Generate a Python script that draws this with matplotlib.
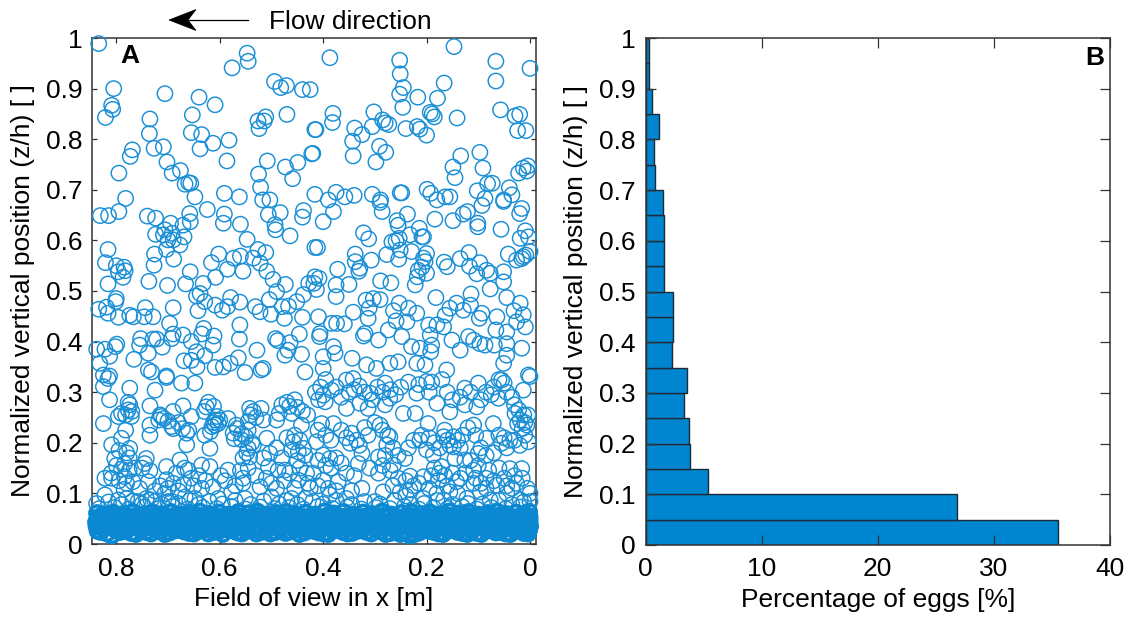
import matplotlib
matplotlib.use("Agg")
import matplotlib.pyplot as plt
from matplotlib.lines import Line2D
from matplotlib.patches import Polygon
import numpy as np

plt.rcParams['font.family'] = ['Liberation Sans', 'DejaVu Sans']

# Egg positions: (x in m, z/h)
top_points = [
    (.834,.989),(.547,.970),(.545,.954),(.576,.941),(.494,.914),(.482,.902),(.471,.906),(.440,.898),
    (.805,.900),(.706,.890),(.640,.883),(.609,.868),(.809,.867),(.807,.859),(.821,.843),(.653,.848),
    (.735,.840),(.470,.849),(.511,.844),(.526,.836),(.524,.821),(.514,.836),(.736,.811),(.655,.813),
    (.635,.809),(.582,.798),(.613,.792),(.709,.785),(.727,.782),(.638,.781),(.769,.779),(.773,.766),
    (.586,.757),(.702,.755),(.795,.733),(.676,.738),(.692,.733),(.508,.757),(.525,.731),(.473,.745),
    (.449,.754),(.459,.722),(.422,.771),(.416,.819),(.521,.705),(.667,.711),(.660,.714),(.656,.713),
    (.648,.686),(.782,.683),(.591,.693),(.562,.686),(.517,.680),(.503,.680),(.416,.691),
    (.387,.961),(.425,.898),(.252,.956),(.251,.929),(.245,.902),(.252,.889),(.217,.883),(.246,.863),
    (.166,.911),(.179,.881),(.147,.983),(.066,.954),(.066,.915),(.000,.940),(.057,.858),(.029,.846),
    (.020,.849),(.024,.817),(.008,.817),(.141,.842),(.193,.853),(.189,.850),(.185,.844),(.302,.854),
    (.285,.838),(.280,.832),(.273,.829),(.305,.825),(.240,.821),(.218,.825),(.213,.820),(.200,.808),
    (.381,.851),(.382,.833),(.414,.819),(.339,.822),(.325,.809),(.343,.796),(.342,.767),(.291,.786),
    (.279,.774),(.298,.755),(.420,.772),(.134,.767),(.097,.774),(.149,.745),(.091,.743),(.145,.724),
    (.004,.747),(.013,.743),(.006,.737),(.022,.733),(.082,.712),(.073,.713),(.102,.698),(.040,.704),
    (.035,.690),(.087,.683),(.199,.701),(.192,.693),(.164,.686),(.155,.686),(.180,.680),(.251,.694),
    (.248,.694),(.375,.695),(.358,.686),(.340,.689),(.305,.691),(.289,.680),(.390,.680),(.051,.680),
]
mid_points = [
    (.795,.657),(.815,.649),(.831,.649),(.740,.648),(.724,.644),(.624,.661),(.591,.652),(.593,.634),
    (.560,.632),(.547,.602),(.506,.651),(.483,.655),(.438,.659),(.440,.646),(.493,.631),(.492,.621),
    (.464,.609),(.416,.586),(.658,.653),(.657,.637),(.671,.630),(.695,.634),(.706,.621),(.724,.612),
    (.709,.611),(.692,.614),(.669,.607),(.703,.582),(.677,.591),(.690,.601),(.700,.601),(.816,.582),
    (.821,.556),(.726,.573),(.727,.551),(.689,.563),(.800,.550),(.785,.547),(.796,.538),(.783,.540),
    (.787,.527),(.816,.514),(.737,.519),(.701,.511),(.666,.514),(.657,.538),(.632,.515),(.616,.556),
    (.602,.573),(.608,.527),(.585,.543),(.573,.565),(.560,.569),(.555,.539),(.535,.565),(.526,.582),
    (.511,.576),(.522,.555),(.509,.539),(.497,.523),(.473,.513),(.490,.499),(.504,.483),(.428,.515),
    (.416,.528),(.438,.493),(.451,.479),(.467,.470),(.479,.469),(.501,.454),(.522,.459),(.531,.469),
    (.475,.446),(.440,.448),(.638,.495),(.645,.490),(.629,.479),(.609,.472),(.642,.461),(.595,.462),
    (.579,.487),(.585,.469),(.561,.478),(.800,.485),(.801,.479),(.834,.464),(.819,.468),(.816,.456),
    (.796,.448),(.774,.452),(.767,.449),(.744,.467),(.746,.449),(.729,.449),(.690,.467),(.697,.436),
    (.631,.426),(.561,.433),(.562,.405),(.528,.383),(.492,.406),(.488,.402),(.446,.415),(.464,.398),
    (.468,.383),(.474,.373),(.442,.375),(.690,.415),(.671,.413),(.753,.406),(.729,.405),(.722,.405),
    (.755,.393),(.738,.377),(.711,.389),(.693,.406),(.655,.400),(.635,.415),(.611,.411),(.613,.393),
    (.645,.380),(.629,.372),(.799,.395),(.802,.390),(.838,.385),(.822,.385),(.813,.371),(.832,.357),
    (.766,.365),(.669,.362),(.655,.363),(.644,.350),(.564,.368),(.593,.350),(.580,.357),(.551,.339),
    (.609,.349),(.516,.347),(.520,.344),(.435,.340),(.738,.344),(.732,.340),(.703,.332),(.825,.334),
    (.813,.332),
    (.400,.637),(.380,.657),(.322,.615),(.312,.603),(.411,.586),(.290,.675),(.286,.657),(.237,.652),
    (.257,.639),(.255,.630),(.184,.642),(.149,.639),(.129,.652),(.121,.657),(.093,.669),(.101,.634),
    (.101,.627),(.056,.622),(.020,.653),(.016,.663),(.051,.677),(.009,.619),(.019,.604),(.003,.607),
    (.214,.624),(.232,.611),(.209,.607),(.206,.607),(.267,.597),(.259,.599),(.253,.604),(.277,.572),
    (.251,.581),(.254,.563),(.229,.578),(.200,.574),(.206,.565),(.203,.558),(.209,.547),(.200,.535),
    (.216,.541),(.218,.528),(.222,.512),(.338,.573),(.338,.558),(.307,.561),(.329,.545),(.331,.539),
    (.372,.543),(.408,.525),(.375,.512),(.350,.513),(.418,.515),(.413,.503),(.375,.489),(.289,.520),
    (.269,.516),(.182,.487),(.166,.557),(.160,.548),(.135,.564),(.118,.576),(.117,.549),(.097,.556),
    (.103,.534),(.077,.535),(.084,.541),(.051,.538),(.051,.518),(.077,.504),(.042,.573),(.026,.561),
    (.016,.564),(.008,.571),(.000,.578),(.013,.568),(.114,.494),(.045,.487),(.019,.476),(.031,.461),
    (.013,.453),(.026,.439),(.009,.429),(.064,.449),(.066,.423),(.045,.419),(.045,.396),(.016,.387),
    (.045,.373),(.051,.357),(.303,.485),(.290,.483),(.317,.482),(.311,.466),(.342,.458),(.313,.446),
    (.409,.449),(.384,.436),(.374,.436),(.359,.435),(.319,.416),(.322,.411),(.293,.403),(.406,.416),
    (.407,.410),(.253,.476),(.264,.461),(.235,.466),(.219,.456),(.259,.441),(.238,.439),(.274,.423),
    (.248,.410),(.196,.433),(.180,.433),(.167,.429),(.193,.413),(.164,.452),(.155,.466),(.142,.476),
    (.129,.462),(.115,.472),(.098,.446),(.093,.456),(.135,.383),(.151,.403),(.119,.410),(.109,.403),
    (.097,.396),(.087,.393),(.069,.393),(.229,.390),(.213,.387),(.190,.393),(.192,.380),(.380,.390),
    (.377,.377),(.400,.370),(.344,.367),(.400,.347),(.316,.354),(.297,.347),(.271,.357),(.255,.360),
    (.219,.357),(.203,.354),(.161,.344),(.003,.334),
]
low_points = [
    (.825,.311),(.816,.327),(.813,.285),(.774,.308),(.777,.265),(.774,.275),(.796,.252),(.825,.238),
    (.771,.252),(.782,.225),(.735,.273),(.725,.304),(.674,.318),(.703,.329),(.648,.318),(.671,.273),
    (.655,.252),(.690,.262),(.713,.252),(.735,.235),(.735,.215),(.693,.232),(.664,.219),(.664,.196),
    (.626,.271),(.609,.245),(.609,.235),(.629,.215),(.619,.189),(.635,.156),(.619,.153),(.584,.248),
    (.568,.235),(.574,.219),(.558,.206),(.545,.189),(.542,.172),(.509,.209),(.516,.245),(.535,.262),
    (.542,.268),(.490,.245),(.461,.258),(.442,.235),(.461,.186),(.448,.182),(.438,.189),(.458,.202),
    (.503,.179),(.809,.196),(.790,.209),(.774,.189),(.803,.169),(.784,.159),(.742,.169),(.745,.159),
    (.703,.153),(.677,.166),(.661,.146),(.684,.140),(.822,.130),(.809,.130),(.784,.133),(.768,.123),
    (.738,.123),(.703,.127),(.822,.097),(.780,.090),(.742,.090),(.706,.100),(.667,.093),(.635,.110),
    (.613,.113),(.584,.146),(.555,.130),(.577,.103),(.522,.113),(.487,.146),(.474,.146),(.448,.126),
    (.429,.120),(.506,.153),(.796,.087),(.758,.084),(.725,.084),(.693,.084),(.648,.090),(.603,.090),
    (.551,.090),(.500,.093),(.461,.090),(.435,.090),
    (.355,.268),(.409,.285),(.396,.281),(.400,.294),(.384,.304),(.355,.324),(.342,.327),(.309,.298),
    (.329,.278),(.313,.268),(.271,.288),(.280,.275),(.245,.258),(.222,.258),(.219,.298),(.200,.321),
    (.280,.318),(.126,.308),(.100,.318),(.055,.324),(.013,.304),(.000,.331),(.061,.288),(.103,.271),
    (.126,.275),(.155,.261),(.180,.278),(.109,.235),(.071,.238),(.029,.258),(.019,.245),(.006,.235),
    (.084,.209),(.039,.205),(.055,.199),(.003,.202),(.403,.238),(.380,.238),(.413,.202),(.345,.219),
    (.348,.199),(.313,.215),(.290,.235),(.271,.212),(.277,.196),(.197,.238),(.213,.205),(.200,.186),
    (.167,.212),(.148,.212),(.148,.192),(.100,.179),(.126,.166),(.400,.176),(.387,.169),(.325,.179),
    (.332,.159),(.293,.172),(.293,.140),(.264,.156),(.242,.169),(.187,.176),(.171,.153),(.145,.169),
    (.109,.146),(.080,.146),(.039,.149),(.016,.149),(.419,.140),(.400,.126),(.371,.123),(.325,.110),
    (.232,.134),(.206,.133),(.177,.126),(.142,.123),(.109,.120),(.064,.116),(.026,.120),(.284,.103),
    (.251,.103),(.232,.107),(.155,.103),(.096,.103),(.045,.100),(.000,.084),(.387,.097),(.355,.090),
    (.300,.084),(.206,.090),(.167,.087),(.122,.090),(.077,.087),(.019,.087),
    # second pass over the crowded clusters
    (.777,.280),(.770,.262),(.782,.255),(.790,.258),(.715,.255),(.708,.248),(.700,.243),(.718,.245),
    (.680,.240),(.690,.228),(.672,.228),(.660,.225),(.622,.280),(.630,.262),(.612,.272),(.605,.252),
    (.612,.240),(.603,.238),(.615,.232),(.600,.245),(.618,.222),(.566,.228),(.558,.218),(.550,.212),
    (.572,.208),(.545,.225),(.538,.200),(.548,.180),(.555,.170),(.535,.195),(.540,.255),(.530,.250),
    (.520,.268),(.545,.242),(.480,.275),(.470,.280),(.465,.272),(.455,.285),(.450,.270),(.485,.258),
    (.440,.262),(.430,.255),(.795,.185),(.780,.180),(.775,.170),(.800,.155),(.790,.148),(.775,.145),
    (.765,.150),(.810,.140),(.795,.125),(.780,.120),(.785,.108),(.755,.110),(.735,.145),(.750,.150),
    (.725,.105),(.715,.115),(.700,.110),(.690,.120),(.680,.105),(.670,.118),(.655,.130),(.650,.115),
    (.668,.150),(.640,.135),(.628,.125),(.598,.135),(.590,.125),(.570,.115),(.560,.145),(.545,.150),
    (.555,.120),(.530,.135),(.510,.130),(.500,.120),(.490,.110),(.475,.125),(.465,.140),(.455,.110),
    (.445,.150),(.432,.140),(.425,.110),(.470,.210),(.455,.215),(.445,.205),(.435,.175),(.450,.165),
    (.490,.190),(.480,.170),(.515,.170),
    (.415,.300),(.405,.310),(.395,.325),(.375,.310),(.365,.290),(.350,.300),(.340,.305),(.330,.312),
    (.320,.300),(.305,.285),(.295,.310),(.285,.300),(.270,.305),(.260,.295),(.250,.310),(.235,.320),
    (.215,.315),(.195,.300),(.190,.320),(.170,.325),(.160,.300),(.150,.285),(.135,.290),(.115,.300),
    (.095,.285),(.085,.300),(.075,.295),(.070,.310),(.060,.325),(.050,.318),(.045,.300),(.035,.290),
    (.030,.275),(.022,.265),(.012,.255),(.010,.240),(.024,.238),(.015,.228),(.004,.255),
    (.410,.225),(.395,.215),(.385,.205),(.365,.225),(.355,.210),(.335,.205),(.330,.195),(.320,.230),
    (.300,.240),(.285,.225),(.275,.215),(.265,.190),(.255,.175),(.280,.175),(.235,.190),(.225,.205),
    (.210,.215),(.195,.210),(.185,.200),(.175,.190),(.165,.225),(.160,.205),(.155,.195),(.140,.205),
    (.135,.190),(.130,.215),(.120,.230),(.105,.215),(.095,.190),(.085,.175),(.070,.180),(.060,.215),
    (.050,.210),(.045,.190),(.030,.205),(.020,.195),(.010,.215),
    (.410,.165),(.395,.155),(.385,.150),(.375,.170),(.365,.160),(.355,.140),(.340,.135),(.310,.150),
    (.285,.155),(.270,.145),(.255,.130),(.240,.125),(.225,.115),(.215,.120),(.195,.110),(.190,.135),
    (.185,.150),(.175,.140),(.165,.135),(.160,.115),(.150,.140),(.135,.130),(.125,.140),(.115,.165),
    (.100,.155),(.105,.130),(.095,.120),(.085,.130),(.070,.125),(.060,.150),(.050,.130),(.045,.115),
    (.030,.135),(.015,.130),(.005,.110),(.000,.100),(.410,.115),(.390,.110),(.375,.105),(.345,.105),
    (.265,.115),(.240,.095),(.180,.100),(.140,.100),(.085,.110),(.035,.110),
]
# the dense band near the bed, individual rings can't be read so these are estimates
band_points = [
    (.836,.026),(.818,.021),(.809,.017),(.793,.024),(.771,.022),(.752,.027),(.733,.021),(.716,.025),
    (.697,.023),(.678,.028),(.659,.022),(.641,.026),(.622,.021),(.603,.025),(.585,.029),(.566,.023),
    (.548,.026),(.529,.021),(.511,.027),(.492,.024),(.473,.022),(.455,.028),(.436,.023),(.418,.026),
    (.399,.021),(.381,.027),(.362,.024),(.344,.022),(.325,.027),(.307,.021),(.288,.025),(.270,.022),
    (.251,.020),(.232,.017),(.214,.023),(.195,.026),(.177,.021),(.158,.027),(.140,.024),(.121,.020),
    (.103,.022),(.084,.027),(.066,.023),(.047,.021),(.029,.026),(.012,.022),(.002,.027),
    (.838,.035),(.826,.031),(.802,.034),(.785,.030),(.763,.036),(.744,.032),(.724,.034),(.707,.031),
    (.688,.036),(.669,.033),(.650,.030),(.632,.036),(.613,.032),(.594,.035),(.575,.031),(.557,.036),
    (.538,.033),(.520,.030),(.501,.035),(.483,.032),(.464,.036),(.445,.030),(.427,.034),(.408,.032),
    (.390,.036),(.371,.030),(.353,.034),(.334,.032),(.316,.036),(.297,.031),(.279,.034),(.260,.030),
    (.241,.035),(.223,.032),(.204,.036),(.186,.030),(.167,.034),(.149,.031),(.130,.036),(.112,.032),
    (.093,.035),(.075,.030),(.056,.034),(.038,.032),(.020,.036),(.006,.031),
    (.839,.043),(.820,.040),(.810,.044),(.790,.041),(.777,.045),(.757,.040),(.738,.044),(.719,.041),
    (.701,.045),(.682,.040),(.664,.043),(.645,.046),(.626,.041),(.608,.044),(.589,.040),(.571,.045),
    (.552,.042),(.534,.046),(.515,.040),(.497,.043),(.478,.045),(.460,.041),(.441,.044),(.423,.040),
    (.404,.046),(.386,.042),(.367,.045),(.349,.040),(.330,.044),(.312,.041),(.293,.046),(.274,.040),
    (.256,.043),(.237,.045),(.219,.041),(.200,.044),(.182,.040),(.163,.046),(.145,.042),(.126,.045),
    (.108,.040),(.089,.043),(.071,.046),(.052,.041),(.034,.044),(.015,.041),(.001,.045),
    (.836,.052),(.815,.049),(.798,.053),(.781,.050),(.760,.054),(.742,.049),(.727,.053),(.708,.050),
    (.690,.054),(.672,.049),(.655,.052),(.636,.055),(.617,.050),(.598,.053),(.580,.049),(.561,.054),
    (.543,.051),(.524,.055),(.506,.049),(.487,.052),(.468,.054),(.450,.050),(.431,.053),(.413,.049),
    (.394,.055),(.376,.051),(.358,.054),(.339,.049),(.320,.053),(.302,.050),(.283,.055),(.265,.049),
    (.246,.052),(.228,.054),(.209,.050),(.191,.053),(.172,.049),(.154,.055),(.135,.051),(.117,.054),
    (.098,.049),(.080,.052),(.061,.055),(.043,.050),(.024,.053),(.008,.050),
    (.837,.061),(.822,.058),(.806,.062),(.787,.059),(.768,.063),(.749,.058),(.730,.062),(.713,.059),
    (.694,.063),(.675,.058),(.657,.061),(.639,.064),(.620,.059),(.601,.062),(.583,.058),(.564,.063),
    (.546,.060),(.527,.064),(.509,.058),(.490,.061),(.471,.063),(.453,.059),(.434,.062),(.416,.058),
    (.397,.064),(.379,.060),(.360,.063),(.342,.058),(.323,.062),(.305,.059),(.286,.064),(.268,.058),
    (.249,.061),(.230,.063),(.212,.059),(.193,.062),(.175,.058),(.156,.064),(.138,.060),(.119,.063),
    (.101,.058),(.082,.061),(.064,.064),(.045,.059),(.027,.062),(.010,.059),(.002,.064),
    (.830,.024),(.801,.028),(.781,.026),(.762,.020),(.742,.024),(.725,.029),(.706,.020),(.688,.027),
    (.669,.025),(.650,.021),(.631,.029),(.612,.024),(.594,.020),(.575,.027),(.557,.021),(.538,.028),
    (.520,.024),(.502,.021),(.483,.028),(.464,.025),(.446,.020),(.427,.028),(.409,.023),(.390,.020),
    (.372,.028),(.353,.021),(.335,.026),(.316,.024),(.298,.029),(.279,.020),(.260,.026),(.242,.022),
    (.223,.020),(.205,.028),(.186,.024),(.168,.020),(.149,.028),(.131,.022),(.112,.026),(.094,.020),
    (.075,.028),(.057,.024),(.038,.020),(.020,.028),(.004,.021),
    (.832,.038),(.812,.036),(.794,.038),(.773,.033),(.754,.038),(.735,.036),(.715,.038),(.697,.033),
    (.678,.038),(.659,.035),(.641,.033),(.622,.038),(.603,.036),(.585,.034),(.566,.038),(.547,.033),
    (.529,.037),(.510,.033),(.492,.038),(.473,.034),(.455,.038),(.436,.033),(.417,.037),(.399,.034),
    (.380,.038),(.362,.033),(.343,.037),(.325,.034),(.306,.038),(.288,.033),(.269,.037),(.251,.033),
    (.232,.038),(.214,.034),(.195,.038),(.177,.033),(.158,.037),(.140,.034),(.121,.038),(.103,.033),
    (.084,.037),(.066,.034),(.047,.038),(.029,.033),(.011,.038),(.000,.035),
    (.829,.047),(.804,.046),(.784,.047),(.767,.043),(.748,.047),(.729,.044),(.710,.047),(.692,.043),
    (.673,.047),(.654,.044),(.636,.047),(.617,.043),(.598,.047),(.580,.043),(.561,.047),(.543,.044),
    (.524,.048),(.506,.044),(.487,.047),(.469,.043),(.450,.047),(.432,.043),(.413,.047),(.395,.044),
    (.376,.048),(.358,.043),(.339,.047),(.321,.044),(.302,.047),(.283,.043),(.265,.047),(.246,.044),
    (.228,.048),(.209,.043),(.191,.047),(.172,.044),(.154,.048),(.135,.043),(.117,.047),(.098,.044),
    (.080,.047),(.061,.043),(.043,.047),(.024,.043),(.007,.047),
    (.828,.056),(.808,.056),(.789,.056),(.770,.052),(.751,.056),(.735,.052),(.717,.056),(.699,.052),
    (.680,.056),(.663,.054),(.645,.057),(.627,.052),(.608,.056),(.589,.052),(.570,.056),(.552,.053),
    (.533,.057),(.515,.052),(.496,.056),(.478,.052),(.459,.056),(.441,.052),(.422,.056),(.404,.052),
    (.385,.057),(.367,.053),(.348,.056),(.330,.052),(.311,.056),(.293,.052),(.274,.056),(.256,.053),
    (.237,.057),(.219,.052),(.200,.056),(.182,.053),(.163,.057),(.145,.052),(.126,.056),(.108,.053),
    (.089,.056),(.071,.052),(.052,.056),(.034,.052),(.016,.056),(.001,.053),
]
# top fringe of the band, rings still partly readable
fringe_points = [
    (.833,.070),(.803,.072),(.776,.069),(.746,.073),(.718,.070),(.691,.074),(.662,.069),(.633,.072),
    (.606,.070),(.578,.074),(.550,.069),(.522,.073),(.494,.070),(.466,.072),(.438,.069),(.410,.074),
    (.382,.070),(.354,.073),(.326,.069),(.298,.072),(.271,.070),(.243,.074),(.215,.069),(.187,.072),
    (.159,.070),(.131,.074),(.103,.069),(.075,.072),(.047,.070),(.019,.073),
    (.838,.080),(.815,.083),(.790,.078),(.768,.085),(.750,.079),(.733,.087),(.712,.078),(.700,.084),
    (.680,.080),(.658,.086),(.640,.078),(.620,.084),(.595,.079),(.570,.086),(.540,.078),(.515,.085),
    (.485,.079),(.470,.086),(.450,.078),(.420,.084),(.400,.079),(.375,.086),(.345,.078),(.320,.084),
    (.290,.079),(.262,.086),(.230,.078),(.205,.080),(.180,.086),(.150,.078),(.120,.080),(.092,.079),
    (.060,.086),(.035,.078),(.012,.083),
]
points = np.array(top_points + mid_points + low_points + fringe_points)
band = np.array(band_points)

# Panel B histogram, bins from the bed upward
bin_edges = [i * 0.05 for i in range(20)]
percent_eggs = [35.5, 26.85, 5.4, 3.79, 3.76, 3.3, 3.54, 2.27, 2.38, 2.38,
                1.58, 1.58, 1.58, 1.55, 0.83, 0.75, 1.2, 0.6, 0.34, 0.26]

y_ticks = [0, 0.1, 0.2, 0.3, 0.4, 0.5, 0.6, 0.7, 0.8, 0.9, 1]
y_ticklabels = ['0', '0.1', '0.2', '0.3', '0.4', '0.5', '0.6', '0.7', '0.8', '0.9', '1']

W, H = 1125, 617
fig = plt.figure(figsize=(W / 100, H / 100), dpi=100)
ax_a = fig.add_axes([92 / W, 1 - 544 / H, 444 / W, 506 / H])
ax_b = fig.add_axes([645.5 / W, 1 - 545 / H, 464.5 / W, 507 / H])

spine_col = '#333333'
ring_col = '#1a8fd6'
fs = 19

ax_a.scatter(points[:, 0], points[:, 1], s=122, facecolors='none', edgecolors=ring_col,
             linewidths=1.05, clip_on=False, zorder=3)
# heavier stroke so the overlapping rings merge into a solid band as in the original
ax_a.scatter(band[:, 0], band[:, 1], s=108, facecolors='none', edgecolors='#0a88d2',
             linewidths=2.6, clip_on=False, zorder=3)
ax_a.set_xlim(0.847, -0.0116)
ax_a.set_ylim(0, 1)
ax_a.set_xticks([0.8, 0.6, 0.4, 0.2, 0])
ax_a.set_xticklabels(['0.8', '0.6', '0.4', '0.2', '0'])
ax_a.set_xlabel('Field of view in x [m]', fontsize=fs, labelpad=5)

ax_b.barh(bin_edges, percent_eggs, height=0.05, align='edge', color='#0085d0',
          edgecolor='#1c2b38', linewidth=1.0)
ax_b.set_xlim(0, 40)
ax_b.set_ylim(0, 1)
ax_b.set_xticks([0, 10, 20, 30, 40])
ax_b.set_xlabel('Percentage of eggs [%]', fontsize=fs, labelpad=5)

for ax, tick_len in ((ax_a, 3.6), (ax_b, 7.2)):
    ax.set_yticks(y_ticks)
    ax.set_yticklabels(y_ticklabels)
    ax.set_ylabel('Normalized vertical position (z/h) [ ]', fontsize=fs, labelpad=8)
    ax.tick_params(direction='in', top=True, right=True, length=tick_len, width=0.9,
                   color=spine_col, labelsize=fs, pad=7)
    ax.tick_params(axis='x', pad=9)
    for sp in ax.spines.values():
        sp.set_color(spine_col)
        sp.set_linewidth(1.1)

fig.text(130 / W, 1 - 56 / H, 'A', fontsize=19, fontweight='bold', ha='center', va='center')
fig.text(1095 / W, 1 - 58 / H, 'B', fontsize=19, fontweight='bold', ha='center', va='center')

fig.text(350 / W, 1 - 22 / H, 'Flow direction', fontsize=19, ha='center', va='center')
# notched arrow head plus thin shaft, like the original
head = [(169 / W, 1 - 20 / H), (196 / W, 1 - 9.5 / H), (188 / W, 1 - 20 / H), (196 / W, 1 - 30.5 / H)]
fig.add_artist(Polygon(head, closed=True, facecolor='black', edgecolor='black', linewidth=0.5,
                       transform=fig.transFigure))
fig.add_artist(Line2D([188 / W, 248 / W], [1 - 20 / H, 1 - 20 / H], color='black', linewidth=0.9,
                      transform=fig.transFigure))

fig.savefig('out.png', dpi=100)
